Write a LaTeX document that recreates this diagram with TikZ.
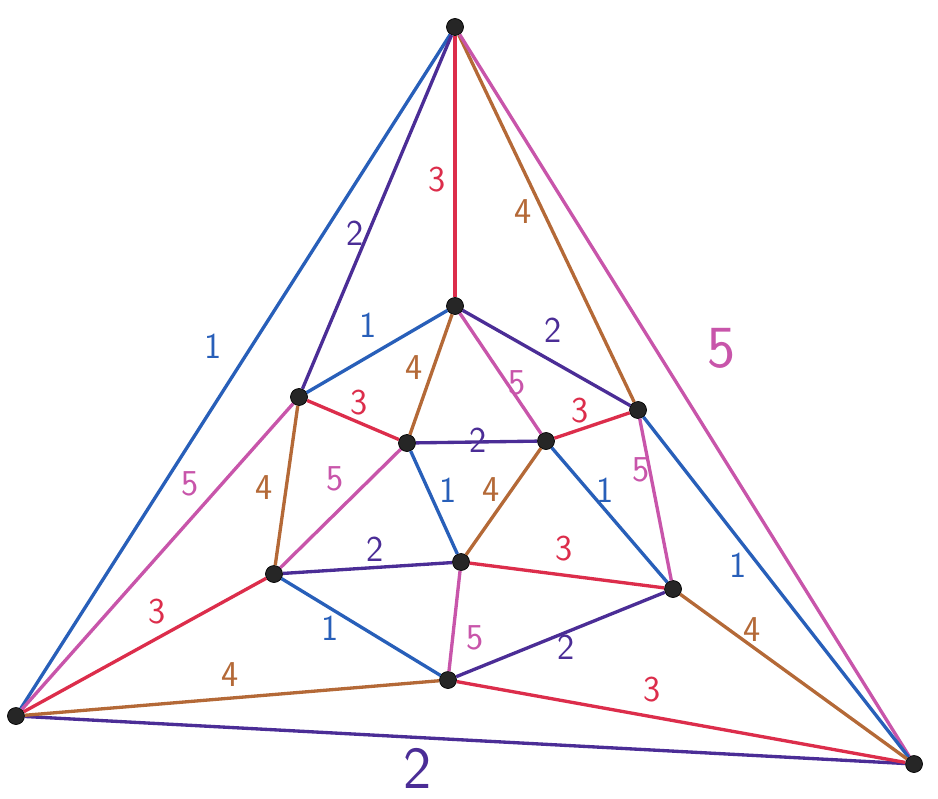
\documentclass[tikz,border=0pt]{standalone}
\usepackage{xcolor}
\usepackage{tikz}
\usetikzlibrary{arrows.meta, positioning, calc}
\definecolor{cone}{RGB}{40,95,185}
\definecolor{ctwo}{RGB}{75,45,150}
\definecolor{cthree}{RGB}{220,45,75}
\definecolor{cfour}{RGB}{180,105,55}
\definecolor{cfive}{RGB}{200,85,170}

\begin{document}
\begin{tikzpicture}[
  vtx/.style={circle, fill=black!85, draw=black, inner sep=0pt, minimum size=0.34cm},
  edge/.style={line width=1.9pt},
  lbl/.style={font=\sffamily\huge},
  big/.style={font=\sffamily\fontsize{34}{36}\selectfont}
]
\useasboundingbox (0,0) rectangle (18.76,-15.96);

% vertices (pixel positions of the sketch, 50 px per cm)
\foreach \n/\x/\y in {T/455/27, L/16/716, R/914/764, A/455/306, B/299/397,
  C/638/410, D/407/443, E/546/441, F/274/574, G/461/562, H/673/589, I/448/680}
  \node[vtx] (\n) at (\x/50,-\y/50) {};

% edges, coloured 1..5
\foreach \a/\b/\c in {T/L/cone, T/B/ctwo, T/A/cthree, T/C/cfour, T/R/cfive,
  L/R/ctwo, L/B/cfive, L/F/cthree, L/I/cfour,
  R/C/cone, R/H/cfour, R/I/cthree,
  A/B/cone, A/C/ctwo, A/D/cfour, A/E/cfive,
  B/D/cthree, B/F/cfour, C/E/cthree, C/H/cfive,
  D/E/ctwo, D/G/cone, D/F/cfive, E/G/cfour, E/H/cone,
  F/G/ctwo, F/I/cone, G/H/cthree, G/I/cfive, H/I/ctwo}
  \draw[edge, \c] (\a) -- (\b);

% edge labels
\foreach \x/\y/\c/\t [count=\i] in {213/346/cone/1, 355/233/ctwo/2, 437/180/cthree/3,
  523/212/cfour/4, 190/484/cfive/5, 157/612/cthree/3, 230/675/cfour/4,
  738/565/cone/1, 752/630/cfour/4, 652/690/cthree/3,
  368/325/cone/1, 553/330/ctwo/2, 414/368/cfour/4, 517/383/cfive/5,
  359/403/cthree/3, 264/488/cfour/4, 580/411/cthree/3, 641/470/cfive/5,
  478/440/ctwo/2, 448/490/cone/1, 335/479/cfive/5, 491/490/cfour/4,
  605/490/cone/1, 375/549/ctwo/2, 330/628/cone/1, 564/549/cthree/3,
  475/638/cfive/5, 566/647/ctwo/2}
  \node[lbl, text=\c] (lab\i) at (\x/50,-\y/50) {\t};

\node[big, text=cfive] (labTR) at (722/50,-348/50) {5};
\node[big, text=ctwo] (labLR) at (418/50,-768/50) {2};

\end{tikzpicture}
\end{document}
